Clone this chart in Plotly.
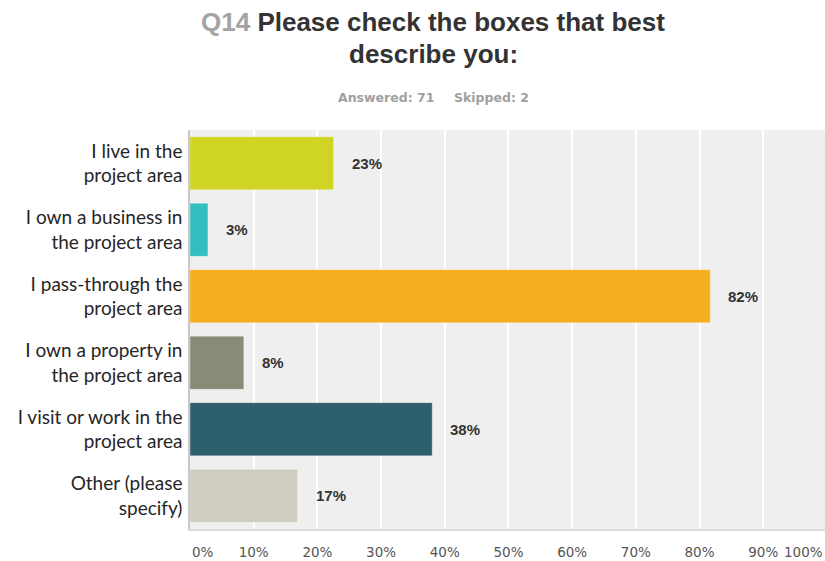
import plotly.graph_objects as go

# Survey question Q14 - share of respondents per answer choice (percent of 71 answered)
categories = [
    "I live in the<br>project area",
    "I own a business in<br>the project area",
    "I pass-through the<br>project area",
    "I own a property in<br>the project area",
    "I visit or work in the<br>project area",
    "Other (please<br>specify)",
]
percent_values = [22.54, 2.82, 81.69, 8.45, 38.03, 16.90]
bar_colors = ["#D0D425", "#33BEC0", "#F5AF20", "#8A8A78", "#2E5F6D", "#CFCDBF"]
tick_values = [10, 20, 30, 40, 50, 60, 70, 80, 90]
tick_labels = ["10%", "20%", "30%", "40%", "50%", "60%", "70%", "80%", "90%"]
answered = 71
skipped = 2

W, H = 825, 561
M_L, M_R, M_T, M_B = 190, 0, 130, 32
PLOT_W = W - M_L - M_R
PLOT_H = H - M_T - M_B


def paper_x(px):
    return (px - M_L) / PLOT_W


def paper_y(py):
    return (H - M_B - py) / PLOT_H


fig = go.Figure()
fig.add_trace(
    go.Bar(
        x=percent_values,
        y=categories,
        orientation="h",
        marker=dict(color=bar_colors, line=dict(color="rgba(255,255,255,0.35)", width=1)),
        hoverinfo="skip",
    )
)

annotations = []
# value labels just right of each bar
for cat, val in zip(categories, percent_values):
    annotations.append(
        dict(
            x=val, y=cat, xref="x", yref="y",
            text=f"{val:.0f}%", showarrow=False,
            xanchor="left", yanchor="middle", xshift=16,
            font=dict(family="Liberation Sans, Arial, sans-serif", size=15, color="#333333", weight="bold"),
        )
    )

tick_font = dict(family="DejaVu Sans, Verdana, sans-serif", size=13.5, color="#555555")
# end labels of the percent axis
annotations.append(dict(x=0, y=paper_y(552), xref="paper", yref="paper", text="0%", showarrow=False,
                        xanchor="left", yanchor="middle", font=tick_font))
annotations.append(dict(x=1, y=paper_y(552), xref="paper", yref="paper", text="100%", showarrow=False,
                        xanchor="right", yanchor="middle", font=tick_font))

# title and response counts
annotations.append(dict(
    x=paper_x(433), y=paper_y(22), xref="paper", yref="paper", showarrow=False,
    xanchor="center", yanchor="middle",
    text="<span style='color:#A3A3A3'>Q14</span> Please check the boxes that best",
    font=dict(family="Liberation Sans, Arial, sans-serif", size=26, color="#333333", weight="bold"),
))
annotations.append(dict(
    x=paper_x(433), y=paper_y(54), xref="paper", yref="paper", showarrow=False,
    xanchor="center", yanchor="middle", text="describe you:",
    font=dict(family="Liberation Sans, Arial, sans-serif", size=26, color="#333333", weight="bold"),
))
count_font = dict(family="DejaVu Sans, Verdana, sans-serif", size=12.5, color="#A0A0A0", weight="bold")
annotations.append(dict(
    x=paper_x(386), y=paper_y(97), xref="paper", yref="paper", showarrow=False,
    xanchor="center", yanchor="middle", text=f"Answered: {answered}", font=count_font,
))
annotations.append(dict(
    x=paper_x(491), y=paper_y(97), xref="paper", yref="paper", showarrow=False,
    xanchor="center", yanchor="middle", text=f"Skipped: {skipped}", font=count_font,
))

fig.update_layout(
    width=W, height=H,
    margin=dict(l=M_L, r=M_R, t=M_T, b=M_B, autoexpand=False),
    paper_bgcolor="#FFFFFF",
    plot_bgcolor="#EFEFEF",
    bargap=0.2,
    showlegend=False,
    annotations=annotations,
)
fig.update_xaxes(
    range=[0, 99.7],
    tickvals=tick_values,
    ticktext=tick_labels,
    showgrid=True, gridcolor="#FFFFFF", gridwidth=1.5,
    zeroline=False,
    showline=True, linecolor="#DCDCDC", linewidth=2,
    ticks="", ticklabelstandoff=10,
    tickfont=tick_font,
    fixedrange=True,
)
fig.update_yaxes(
    autorange="reversed",
    showgrid=False, zeroline=False,
    showline=True, linecolor="#C8C8C8", linewidth=1.5,
    ticks="", ticklabelstandoff=2,
    tickfont=dict(family="Lato, Calibri, sans-serif", size=19, color="#262626"),
    fixedrange=True,
)

fig.write_html("out.html")
